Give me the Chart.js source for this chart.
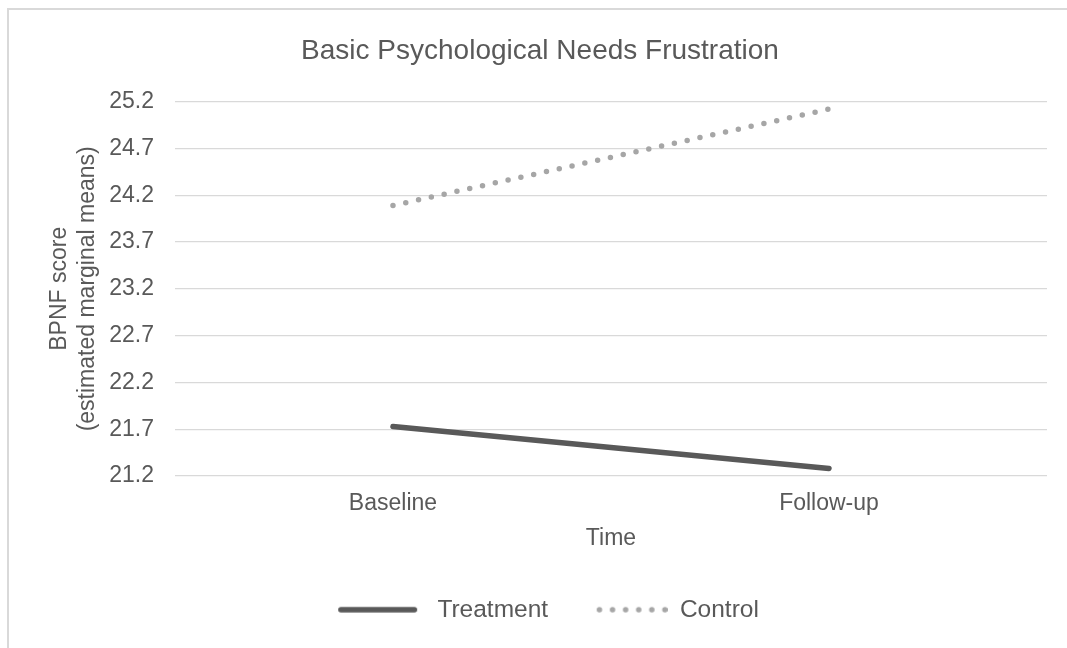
<!DOCTYPE html>
<html>
<head>
<meta charset="utf-8">
<script src="https://cdn.jsdelivr.net/npm/chart.js@4.4.1/dist/chart.umd.min.js"></script>
<style>
  html, body { margin: 0; padding: 0; background: #ffffff; overflow: hidden; }
  #frame {
    position: absolute; left: 7px; top: 8px;
    width: 1200px; height: 800px;
    border: 2px solid #d9d9d9; box-sizing: border-box;
  }
  #wrap { position: absolute; left: 0; top: 0; width: 1067px; height: 648px; }
</style>
</head>
<body>
<div id="frame"></div>
<div id="wrap"><canvas id="chart" width="1067" height="648"></canvas></div>
<script>
// Estimated marginal means of BPNF score by time point
const timePoints = ['Baseline', 'Follow-up'];
const treatmentMeans = [21.73, 21.28];
const controlMeans = [24.09, 25.12];
const groupNames = ['Treatment', 'Control'];

const textColor = '#595959';
const gridColor = '#d9d9d9';
const fontFamily = '"Liberation Sans", Arial, sans-serif';

const lineWidth = 5.5;
const dotGap = 13.1;
const legendBox = 104;

// Legend swatch: a solid stroke or a row of six round dots, starting at `start` inside its box
function legendSwatch(color, dash, start) {
  const c = document.createElement('canvas');
  c.width = legendBox;
  c.height = 8;
  const g = c.getContext('2d');
  g.strokeStyle = color;
  g.lineWidth = lineWidth;
  g.lineCap = 'round';
  g.setLineDash(dash);
  const half = lineWidth / 2;
  const len = dash.length ? dotGap * 5 : 73.5;
  const x0 = start + half;
  g.beginPath();
  g.moveTo(x0, 4);
  g.lineTo(x0 + len + 0.01, 4);
  g.stroke();
  return c;
}

const ctx = document.getElementById('chart').getContext('2d');

new Chart(ctx, {
  type: 'line',
  data: {
    labels: timePoints,
    datasets: [
      {
        label: groupNames[0],
        data: treatmentMeans,
        borderColor: '#595959',
        backgroundColor: '#595959',
        borderWidth: lineWidth,
        borderCapStyle: 'round',
        pointRadius: 0,
        tension: 0
      },
      {
        label: groupNames[1],
        data: controlMeans,
        borderColor: '#a6a6a6',
        backgroundColor: '#a6a6a6',
        borderWidth: lineWidth,
        borderCapStyle: 'round',
        borderDash: [0, dotGap],
        pointRadius: 0,
        tension: 0
      }
    ]
  },
  options: {
    responsive: false,
    animation: false,
    devicePixelRatio: 1,
    layout: { padding: { left: 33, right: 20, top: 0, bottom: 16 } },
    plugins: {
      tooltip: { enabled: false },
      title: {
        display: true,
        text: 'Basic Psychological Needs Frustration',
        color: textColor,
        font: { family: fontFamily, size: 28, weight: 'normal' },
        padding: { top: 34, bottom: 34 }
      },
      legend: {
        position: 'bottom',
        labels: {
          color: textColor,
          font: { family: fontFamily, size: 24.5 },
          usePointStyle: true,
          pointStyleWidth: legendBox,
          padding: 15.5,
          generateLabels(chart) {
            const items = Chart.defaults.plugins.legend.labels.generateLabels(chart);
            return items.map(item => {
              const ds = chart.data.datasets[item.datasetIndex];
              const dashed = !!ds.borderDash;
              item.pointStyle = legendSwatch(ds.borderColor, ds.borderDash || [], dashed ? 33 : 17);
              return item;
            });
          }
        }
      }
    },
    scales: {
      x: {
        offset: true,
        grid: { display: false, drawTicks: false },
        border: { display: false },
        ticks: {
          color: textColor,
          font: { family: fontFamily, size: 23 },
          padding: 14
        },
        title: {
          display: true,
          text: 'Time',
          color: textColor,
          font: { family: fontFamily, size: 23 },
          padding: { top: -7, bottom: 29.8 }
        }
      },
      y: {
        min: 21.2,
        max: 25.2,
        grid: { color: gridColor, lineWidth: 1.3, drawTicks: false },
        border: { display: false },
        ticks: {
          stepSize: 0.5,
          color: textColor,
          font: { family: fontFamily, size: 23 },
          padding: 21,
          callback: v => Number(v).toFixed(1)
        },
        title: {
          display: true,
          text: ['BPNF score', '(estimated marginal means)'],
          color: textColor,
          font: { family: fontFamily, size: 23 },
          padding: { top: 13, bottom: -13 }
        }
      }
    }
  }
});
</script>
</body>
</html>
